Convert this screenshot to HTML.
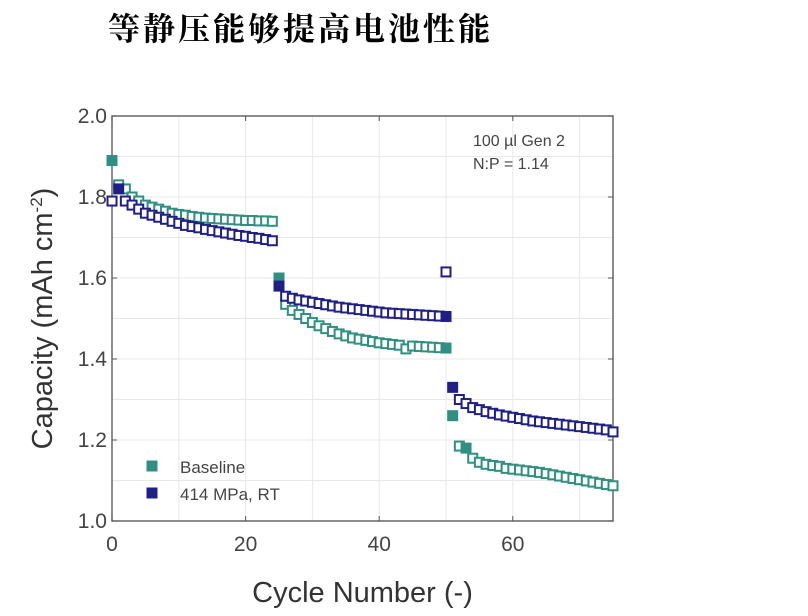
<!DOCTYPE html>
<html><head><meta charset="utf-8"><style>
body{margin:0;background:#fff;width:808px;height:616px;overflow:hidden;font-family:"Liberation Sans",sans-serif}
.title{position:absolute;left:108px;top:4px;font-family:"Liberation Serif","Noto Serif CJK SC",serif;font-weight:bold;font-size:32px;letter-spacing:3px;color:#000;white-space:nowrap}
</style></head><body>
<div class="title">等静压能够提高电池性能</div>
<svg id="chart" width="808" height="616" style="position:absolute;left:0;top:0"></svg>
<script>
const xTicks=[0,20,40,60];
const yTicks=[1.0,1.2,1.4,1.6,1.8,2.0];
const cycles=[];for(let i=0;i<=75;i++)cycles.push(i);
const baseline=[1.89,1.83,1.82,1.80,1.79,1.78,1.775,1.77,1.765,1.76,1.757,1.755,1.752,1.75,1.748,1.747,1.746,1.745,1.744,1.743,1.742,1.742,1.741,1.741,1.74,
1.60,1.535,1.52,1.51,1.50,1.49,1.482,1.475,1.468,1.462,1.457,1.452,1.449,1.446,1.443,1.44,1.438,1.436,1.434,1.425,1.432,1.431,1.43,1.429,1.428,1.427,
1.26,1.185,1.18,1.155,1.145,1.14,1.137,1.135,1.13,1.128,1.126,1.124,1.122,1.12,1.117,1.114,1.111,1.108,1.105,1.102,1.099,1.096,1.093,1.09,1.087];
const pressed=[1.79,1.82,1.79,1.78,1.77,1.76,1.755,1.75,1.745,1.74,1.735,1.73,1.727,1.724,1.72,1.717,1.714,1.711,1.708,1.705,1.703,1.70,1.698,1.695,1.692,
1.58,1.555,1.55,1.546,1.543,1.54,1.537,1.534,1.531,1.528,1.526,1.524,1.522,1.52,1.518,1.516,1.514,1.513,1.512,1.511,1.51,1.509,1.508,1.507,1.506,1.505,
1.33,1.30,1.29,1.28,1.275,1.27,1.266,1.262,1.259,1.256,1.253,1.25,1.247,1.245,1.243,1.241,1.239,1.237,1.235,1.233,1.231,1.229,1.227,1.225,1.22];
const baselineFilled=[0,25,50,51,53];
const pressedFilled=[1,25,50,51];
const extraPressed=[[50,1.615]];
const L=112,R=613,T=116,B=521,xMax=75;
const X=v=>L+v/xMax*(R-L), Y=v=>B-(v-1.0)/1.0*(B-T);
const svg=document.getElementById('chart');const NS='http://www.w3.org/2000/svg';
function mk(t,a,p){const e=document.createElementNS(NS,t);for(const k in a)e.setAttribute(k,a[k]);(p||svg).appendChild(e);return e;}
for(const v of [10,30,50,70].concat(xTicks)){const g=mk('line',{x1:X(v),x2:X(v),y1:T,y2:B,stroke:'#e8e8e8','stroke-width':1});

}
for(const v of [1.1,1.3,1.5,1.7,1.9].concat(yTicks)){const g=mk('line',{x1:L,x2:R,y1:Y(v),y2:Y(v),stroke:'#e8e8e8','stroke-width':1});

}
const frame=mk('rect',{x:L,y:T,width:R-L,height:B-T,fill:'none',stroke:'#666','stroke-width':1.5});


xTicks.forEach(v=>{mk('line',{x1:X(v),x2:X(v),y1:B,y2:B-5,stroke:'#555'});mk('line',{x1:X(v),x2:X(v),y1:T,y2:T+5,stroke:'#555'});
const t=mk('text',{x:X(v),y:B+30,'text-anchor':'middle','font-size':21,fill:'#444'});t.textContent=v;

});
yTicks.forEach(v=>{mk('line',{x1:L,x2:L+5,y1:Y(v),y2:Y(v),stroke:'#555'});mk('line',{x1:R,x2:R-5,y1:Y(v),y2:Y(v),stroke:'#555'});
const t=mk('text',{x:L-5,y:Y(v)+7,'text-anchor':'end','font-size':21,fill:'#444'});t.textContent=v.toFixed(1);

});
const xt=mk('text',{x:(L+R)/2,y:602,'text-anchor':'middle','font-size':29,fill:'#333'});xt.textContent='Cycle Number (-)';


const yt=mk('text',{x:0,y:0,'text-anchor':'middle','font-size':29,fill:'#333',transform:`translate(52,${(T+B)/2}) rotate(-90)`});
yt.innerHTML='Capacity (mAh cm<tspan dy="-10" font-size="17">-2</tspan><tspan dy="10">)</tspan>';


const teal='#2f8f82',navy='#1f1f86';
function sq(cx,cy,c,filled,name){const r=mk('rect',{x:cx-4.5,y:cy-4.5,width:9,height:9,fill:filled?c:'#fff',stroke:c,'stroke-width':2});

}
cycles.forEach((c,i)=>sq(X(c),Y(baseline[i]),teal,baselineFilled.includes(c),'baseline-point'));
cycles.forEach((c,i)=>sq(X(c),Y(pressed[i]),navy,pressedFilled.includes(c),'pressed-point'));
extraPressed.forEach(p=>sq(X(p[0]),Y(p[1]),navy,false,'pressed-point'));
sq(152,466,teal,true,'legend-baseline-marker');
const l1=mk('text',{x:180,y:473,'font-size':17,fill:'#444'});l1.textContent='Baseline';


sq(152,493,navy,true,'legend-pressed-marker');
const l2=mk('text',{x:180,y:500,'font-size':17,fill:'#444'});l2.textContent='414 MPa, RT';


const a1=mk('text',{x:473,y:146,'font-size':16,fill:'#444'});a1.textContent='100 µl Gen 2';


const a2=mk('text',{x:473,y:169,'font-size':16,fill:'#444'});a2.textContent='N:P = 1.14';


</script>
</body></html>
